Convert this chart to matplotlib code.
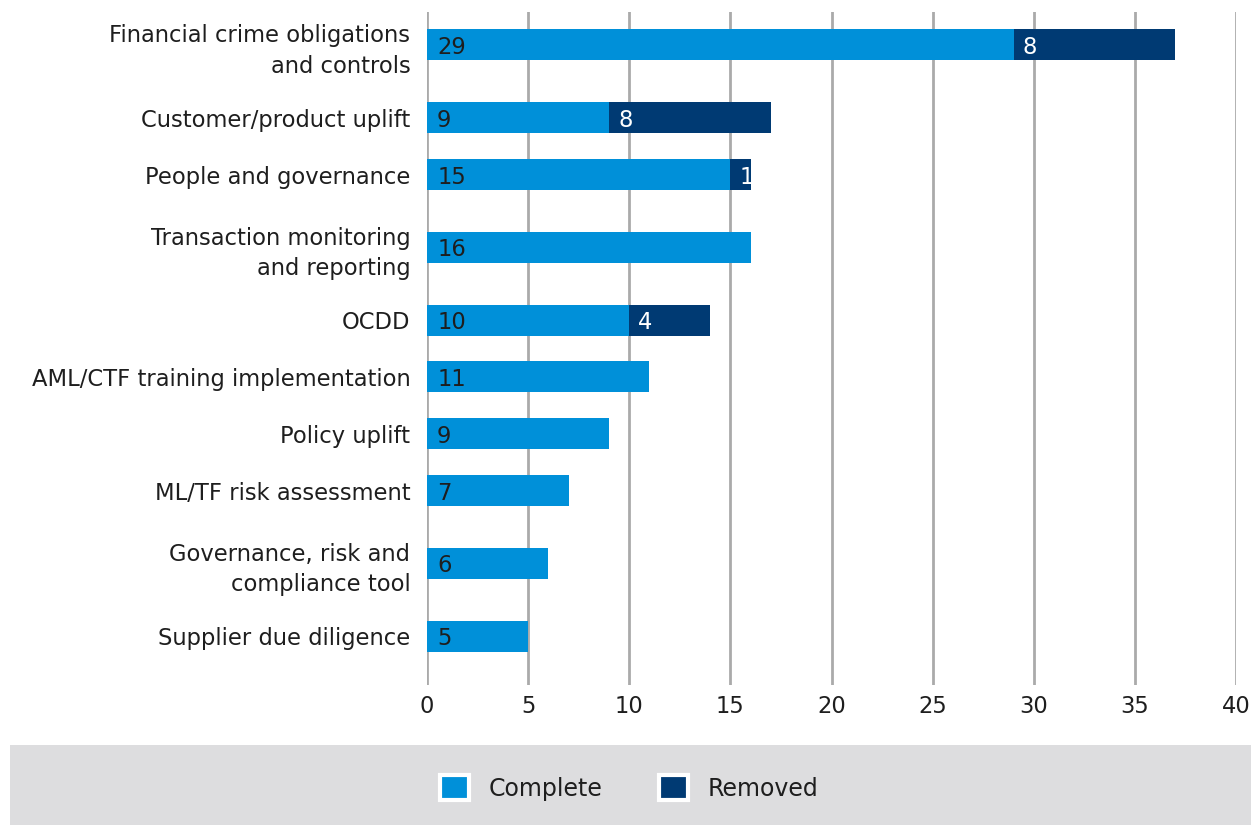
import matplotlib
matplotlib.use("Agg")
import matplotlib.pyplot as plt
from matplotlib.patches import Patch, Rectangle
import numpy as np

categories = [
    "Financial crime obligations\nand controls",
    "Customer/product uplift",
    "People and governance",
    "Transaction monitoring\nand reporting",
    "OCDD",
    "AML/CTF training implementation",
    "Policy uplift",
    "ML/TF risk assessment",
    "Governance, risk and\ncompliance tool",
    "Supplier due diligence",
]
complete = [29, 9, 15, 16, 10, 11, 9, 7, 6, 5]
removed = [8, 8, 1, 0, 4, 0, 0, 0, 0, 0]
xticks = [0, 5, 10, 15, 20, 25, 30, 35, 40]

C_COMPLETE = "#0090D9"
C_REMOVED = "#003A73"
TXT = "#1E1E1E"
FS = 16.3

plt.rcParams["font.family"] = ["DejaVu Sans"]

W, H = 1251, 825
fig = plt.figure(figsize=(W / 100, H / 100), dpi=100)
ax = fig.add_axes([427 / W, 1 - 685 / H, (1236 - 427) / W, (685 - 12) / H])

# y positions: extra room around two-line labels
lines = [c.count("\n") + 1 for c in categories]
pos = [0.0]
for i in range(1, len(categories)):
    step = 57 + 16 * (lines[i - 1] - 1) + 16 * (lines[i] - 1)
    pos.append(pos[-1] + step)
pos = np.array(pos)

bar_h = 31
ax.barh(pos, complete, height=bar_h, color=C_COMPLETE, zorder=3)
ax.barh(pos, removed, left=complete, height=bar_h, color=C_REMOVED, zorder=3)

for y, c, r in zip(pos, complete, removed):
    ax.text(0.5, y, str(c), va="center_baseline", ha="left", fontsize=FS, color=TXT, zorder=4)
    if r:
        ax.text(c + 0.45, y, str(r), va="center_baseline", ha="left", fontsize=FS, color="white", zorder=4)

ax.set_ylim(pos[-1] + 49, pos[0] - 33)
ax.set_xlim(0, 40)
ax.set_yticks(pos)
ax.set_yticklabels(categories, fontsize=FS, color=TXT, ha="right", multialignment="right",
                   linespacing=1.4)
ax.set_xticks(xticks)
ax.set_xticklabels([str(t) for t in xticks], fontsize=FS, color=TXT)
ax.tick_params(axis="both", length=0)
ax.tick_params(axis="y", pad=12)
ax.tick_params(axis="x", pad=7)
for s in ax.spines.values():
    s.set_visible(False)
ax.grid(axis="x", color="#AAAAAA", linewidth=2, zorder=0)
ax.set_axisbelow(True)

# legend band
fig.patches.append(Rectangle((10 / W, 0), 1 - 10 / W, 80 / H, transform=fig.transFigure,
                             facecolor="#DDDDDF", edgecolor="none", zorder=0))
handles = [Patch(facecolor=C_COMPLETE, edgecolor="white", linewidth=3, label="Complete"),
           Patch(facecolor=C_REMOVED, edgecolor="white", linewidth=3, label="Removed")]
fig.legend(handles=handles, loc="center", bbox_to_anchor=(629 / W, 1 - 788 / H), ncol=2,
           frameon=False, fontsize=FS + 0.7, handlelength=1.25, handleheight=1.25,
           columnspacing=2.4, handletextpad=0.8, labelcolor=TXT)

fig.savefig("out.png", dpi=100)
